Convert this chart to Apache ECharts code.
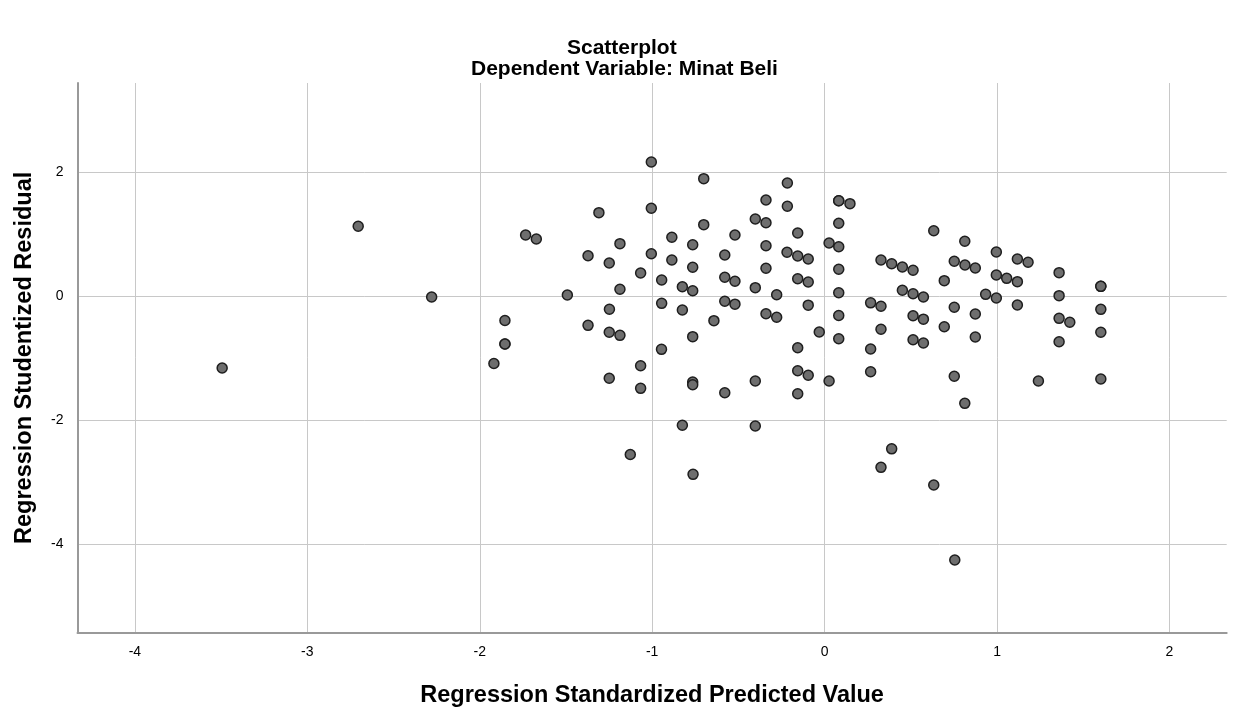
<!DOCTYPE html>
<html>
<head>
<meta charset="utf-8">
<script src="https://cdn.jsdelivr.net/npm/echarts@6/dist/echarts.min.js"></script>
<style>
html,body{margin:0;padding:0;background:#fff;}
#chart{width:1235px;height:707px;}
</style>
</head>
<body>
<div id="chart"></div>
<script>
// Regression Standardized Predicted Value (x) and Studentized Residual (y)
var predicted = [
-3.494,-2.705,-2.279,-1.918,-1.854,-1.854,-1.854,-1.734,-1.672,-1.492,
-1.372,-1.372,-1.309,-1.249,-1.248,-1.249,-1.249,-1.187,-1.187,-1.187,
-1.127,-1.067,-1.067,-1.067,-1.005,-1.005,-1.005,-0.945,-0.945,-0.946,
-0.886,-0.886,-0.825,-0.825,-0.825,-0.765,-0.765,-0.765,-0.765,-0.765,
-0.765,-0.763,-0.701,-0.701,-0.642,-0.579,-0.579,-0.579,-0.579,-0.520,
-0.520,-0.520,-0.402,-0.402,-0.402,-0.402,-0.340,-0.340,-0.340,-0.340,
-0.340,-0.278,-0.278,-0.216,-0.216,-0.218,-0.156,-0.156,-0.156,-0.156,
-0.156,-0.156,-0.095,-0.095,-0.095,-0.095,-0.031,0.026,0.026,0.082,
0.082,0.082,0.082,0.082,0.082,0.082,0.082,0.147,0.267,0.267,
0.267,0.327,0.327,0.327,0.327,0.389,0.389,0.451,0.451,0.513,
0.513,0.513,0.513,0.573,0.573,0.573,0.633,0.633,0.694,0.694,
0.752,0.752,0.752,0.755,0.813,0.814,0.813,0.874,0.874,0.874,
0.934,0.996,0.996,0.996,1.056,1.118,1.118,1.118,1.180,1.240,
1.360,1.360,1.360,1.360,1.422,1.602,1.602,1.602,1.602,1.602
];
var residual = [
-1.161,1.124,-0.016,-1.089,-0.395,-0.774,-0.774,0.984,0.919,0.016,
0.650,-0.473,1.344,0.532,-0.213,-0.585,-1.327,0.844,0.108,-0.634,
-2.556,0.371,-1.124,-1.489,2.161,1.415,0.682,0.258,-0.118,-0.860,
0.947,0.581,0.150,-0.226,-2.085,0.827,0.463,0.085,-0.656,-1.387,
-1.431,-2.876,1.892,1.150,-0.398,0.661,0.302,-0.085,-1.560,0.984,
0.237,-0.132,1.242,0.134,-1.371,-2.097,1.548,1.182,0.811,0.447,
-0.287,0.021,-0.342,1.823,1.447,0.705,1.016,0.645,0.279,-0.834,
-1.205,-1.576,0.597,0.226,-0.148,-1.279,-0.581,0.855,-1.371,1.537,
1.537,1.173,0.795,0.431,0.053,-0.315,-0.689,1.489,-0.110,-0.855,
-1.221,0.581,-0.165,-0.537,-2.763,0.521,-2.465,0.468,0.092,0.415,
0.037,-0.319,-0.705,-0.016,-0.374,-0.758,1.053,-3.048,0.247,-0.495,
0.560,-0.181,-1.295,-4.258,0.882,0.500,-1.731,0.452,-0.290,-0.661,
0.027,0.710,0.339,-0.032,0.285,0.597,0.231,-0.145,0.544,-1.371,
0.376,0.005,-0.360,-0.737,-0.424,0.156,0.156,-0.215,-0.585,-1.339
];
var xTicks = [-4, -3, -2, -1, 0, 1, 2];
var yTicks = [-4, -2, 0, 2];

var points = predicted.map(function (x, i) { return [x, residual[i]]; });

var chart = echarts.init(document.getElementById('chart'), null, {renderer: 'canvas'});
var FONT = '"Liberation Sans", Arial, sans-serif';
chart.setOption({
  backgroundColor: '#ffffff',
  animation: false,
  title: [
    {text: 'Scatterplot', left: 562, top: 33,
     textStyle: {fontFamily: FONT, fontSize: 21, fontWeight: 'bold', color: '#000'}},
    {text: 'Dependent Variable: Minat Beli', left: 466, top: 54,
     textStyle: {fontFamily: FONT, fontSize: 21, fontWeight: 'bold', color: '#000'}}
  ],
  grid: {left: 77.5, right: 8.3, top: 83, bottom: 74.3, containLabel: false, outerBoundsMode: 'none'},
  xAxis: {
    type: 'value', min: -4.333, max: 2.332,
    name: 'Regression Standardized Predicted Value',
    nameLocation: 'middle', nameGap: 51,
    nameTextStyle: {fontFamily: FONT, fontSize: 23.5, fontWeight: 'bold', color: '#000'},
    axisLine: {show: true, onZero: false, lineStyle: {color: '#999', width: 2}},
    axisTick: {show: false, customValues: xTicks},
    axisLabel: {customValues: xTicks, margin: 12, fontFamily: FONT, fontSize: 14, color: '#000',
                showMinLabel: true, showMaxLabel: true},
    splitLine: {show: true, lineStyle: {color: '#c8c8c8', width: 1}}
  },
  yAxis: {
    type: 'value', min: -5.43, max: 3.435,
    name: 'Regression Studentized Residual',
    nameLocation: 'middle', nameGap: 41,
    nameTextStyle: {fontFamily: FONT, fontSize: 23.5, fontWeight: 'bold', color: '#000'},
    axisLine: {show: true, onZero: false, lineStyle: {color: '#999', width: 2}},
    axisTick: {show: false, customValues: yTicks},
    axisLabel: {customValues: yTicks, margin: 14, fontFamily: FONT, fontSize: 14, color: '#000'},
    splitLine: {show: true, lineStyle: {color: '#c8c8c8', width: 1}}
  },
  series: [{
    type: 'scatter',
    data: points,
    symbol: 'circle',
    symbolSize: 10,
    itemStyle: {color: '#6e6e6e', borderColor: '#1e1e1e', borderWidth: 1.5, opacity: 1}
  }]
});
</script>
</body>
</html>
